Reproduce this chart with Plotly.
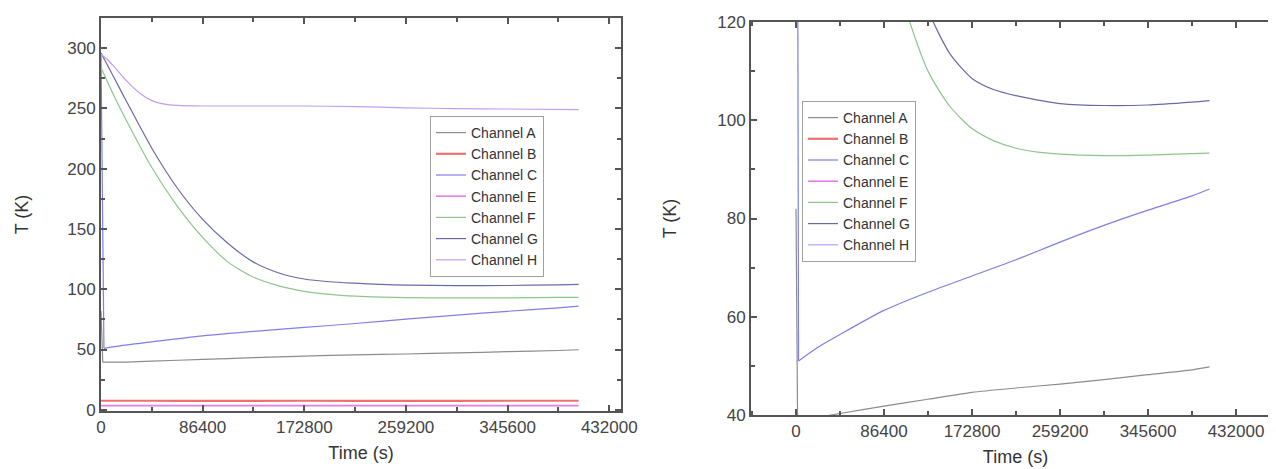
import plotly.graph_objects as go
from plotly.subplots import make_subplots

# ---------------- data ----------------
channels = ["Channel A", "Channel B", "Channel C", "Channel E", "Channel F", "Channel G", "Channel H"]
colors = ["#8c8c8c", "#f07070", "#7f7fe6", "#e47fe4", "#8fc48f", "#6a6aaa", "#bf9ff0"]

t_A = [0, 1500, 21600, 43200, 86400, 129600, 172800, 216000, 259200, 302400, 345600, 388800, 406000]
A = [82, 39.5, 39.6, 40.3, 41.8, 43.2, 44.6, 45.5, 46.3, 47.2, 48.2, 49.2, 49.8]

t_B = [0, 43200, 86400, 172800, 259200, 345600, 406000]
B = [7.5, 7.5, 7.4, 7.5, 7.4, 7.5, 7.5]

t_C = [0, 2500, 20000, 43200, 86400, 129600, 172800, 216000, 259200, 302400, 345600, 388800, 406000]
C = [296, 51, 53.6, 56.4, 61.3, 65.0, 68.3, 71.6, 75.2, 78.6, 81.7, 84.6, 86.0]

t_E = [0, 43200, 86400, 172800, 259200, 345600, 406000]
E = [3.5, 3.5, 3.5, 3.5, 3.5, 3.5, 3.5]

t_F = [0, 10800, 21600, 43200, 64800, 86400, 108000, 129600, 151200, 172800, 194400, 216000,
       237600, 259200, 302400, 345600, 388800, 406000]
F = [284, 261, 240, 201, 169, 143, 122.5, 110, 102.8, 98.3, 95.8, 94.3, 93.5, 93.1, 92.8, 92.9, 93.2, 93.3]

t_G = [0, 10800, 21600, 43200, 64800, 86400, 108000, 129600, 151200, 172800, 194400, 216000,
       237600, 259200, 302400, 345600, 388800, 406000]
G = [296, 276, 256, 217, 184, 158, 138, 122.5, 113.5, 108.5, 106.2, 105.0, 104.1, 103.4, 103.0, 103.1, 103.7, 104.0]

t_H = [0, 5000, 10800, 21600, 32400, 43200, 54000, 64800, 86400, 172800, 216000, 259200, 302400, 345600, 406000]
H = [295, 291, 285, 273, 263, 256.5, 253.5, 252.5, 252, 252, 251.5, 250.5, 249.8, 249.5, 249]

# channels whose first segment is an abrupt initial drop (drawn straight)
initial_drop = [True, False, True, False, False, False, False]

times = [t_A, t_B, t_C, t_E, t_F, t_G, t_H]
values = [A, B, C, E, F, G, H]
widths = [1.2, 2.2, 1.2, 1.6, 1.2, 1.2, 1.2]

x_ticks = [0, 86400, 172800, 259200, 345600, 432000]
x_tick_text = ["0", "86400", "172800", "259200", "345600", "432000"]

# ---------------- figure ----------------
fig = make_subplots(rows=1, cols=2)

for col_idx, leg in ((1, "legend"), (2, "legend2")):
    for name, col, tt, vv, w, drop in zip(channels, colors, times, values, widths, initial_drop):
        if drop:
            # straight initial drop
            fig.add_trace(go.Scatter(x=tt[:2], y=vv[:2], mode="lines", name=name,
                                     line=dict(color=col, width=w), legend=leg,
                                     showlegend=False, hoverinfo="skip"), row=1, col=col_idx)
            tt_s, vv_s = tt[1:], vv[1:]
        else:
            tt_s, vv_s = tt, vv
        fig.add_trace(go.Scatter(x=tt_s, y=vv_s, mode="lines", name=name,
                                 line=dict(color=col, width=w, shape="spline", smoothing=0.7),
                                 legend=leg), row=1, col=col_idx)

font_family = "Liberation Sans, Arial, sans-serif"
tick_font = dict(family=font_family, size=17, color="#444444")
title_font = dict(family=font_family, size=18, color="#333333")

axis_common = dict(showline=True, linecolor="#555555", linewidth=2, mirror="ticks",
                   ticks="inside", ticklen=6, tickwidth=2, tickcolor="#555555",
                   showgrid=False, zeroline=False, tickfont=tick_font, automargin=False)

fig.update_layout(
    width=1276, height=469,
    margin=dict(l=0, r=0, t=0, b=0),
    paper_bgcolor="white", plot_bgcolor="white",
    font=dict(family=font_family),
    xaxis=dict(domain=[93/1276, 613/1276], range=[0, 442000], tickvals=x_ticks, ticktext=x_tick_text,
               minor=dict(ticks="inside", ticklen=4, tickcolor="#555555", dtick=43200, tick0=0),
               title=dict(text="Time (s)", font=title_font, standoff=10), **axis_common),
    yaxis=dict(domain=[66/469, 459/469], range=[-1, 325], tick0=0, dtick=50,
               minor=dict(ticks="inside", ticklen=4, tickcolor="#555555", dtick=25, tick0=0),
               title=dict(text="T (K)", font=title_font, standoff=34), **axis_common),
    xaxis2=dict(domain=[743/1276, 1272/1276], range=[-44200, 475200], tickvals=x_ticks, ticktext=x_tick_text,
                minor=dict(ticks="inside", ticklen=4, tickcolor="#555555", dtick=43200, tick0=0),
                title=dict(text="Time (s)", font=title_font, standoff=10), **axis_common),
    yaxis2=dict(domain=[62/469, 455/469], range=[40, 120], tick0=40, dtick=20,
                minor=dict(ticks="inside", ticklen=4, tickcolor="#555555", dtick=10, tick0=40),
                title=dict(text="T (K)", font=title_font, standoff=36), **axis_common),
    legend=dict(x=422/1276, y=(469-108)/469, xanchor="left", yanchor="top",
                bgcolor="white", bordercolor="#a0a0a0", borderwidth=1, tracegroupgap=0,
                font=dict(family=font_family, size=14, color="#333333"), itemwidth=30),
    legend2=dict(x=794/1276, y=(469-93)/469, xanchor="left", yanchor="top",
                 bgcolor="white", bordercolor="#a0a0a0", borderwidth=1, tracegroupgap=0,
                 font=dict(family=font_family, size=14, color="#333333"), itemwidth=30),
    showlegend=True,
)

fig.write_html("out.html")
